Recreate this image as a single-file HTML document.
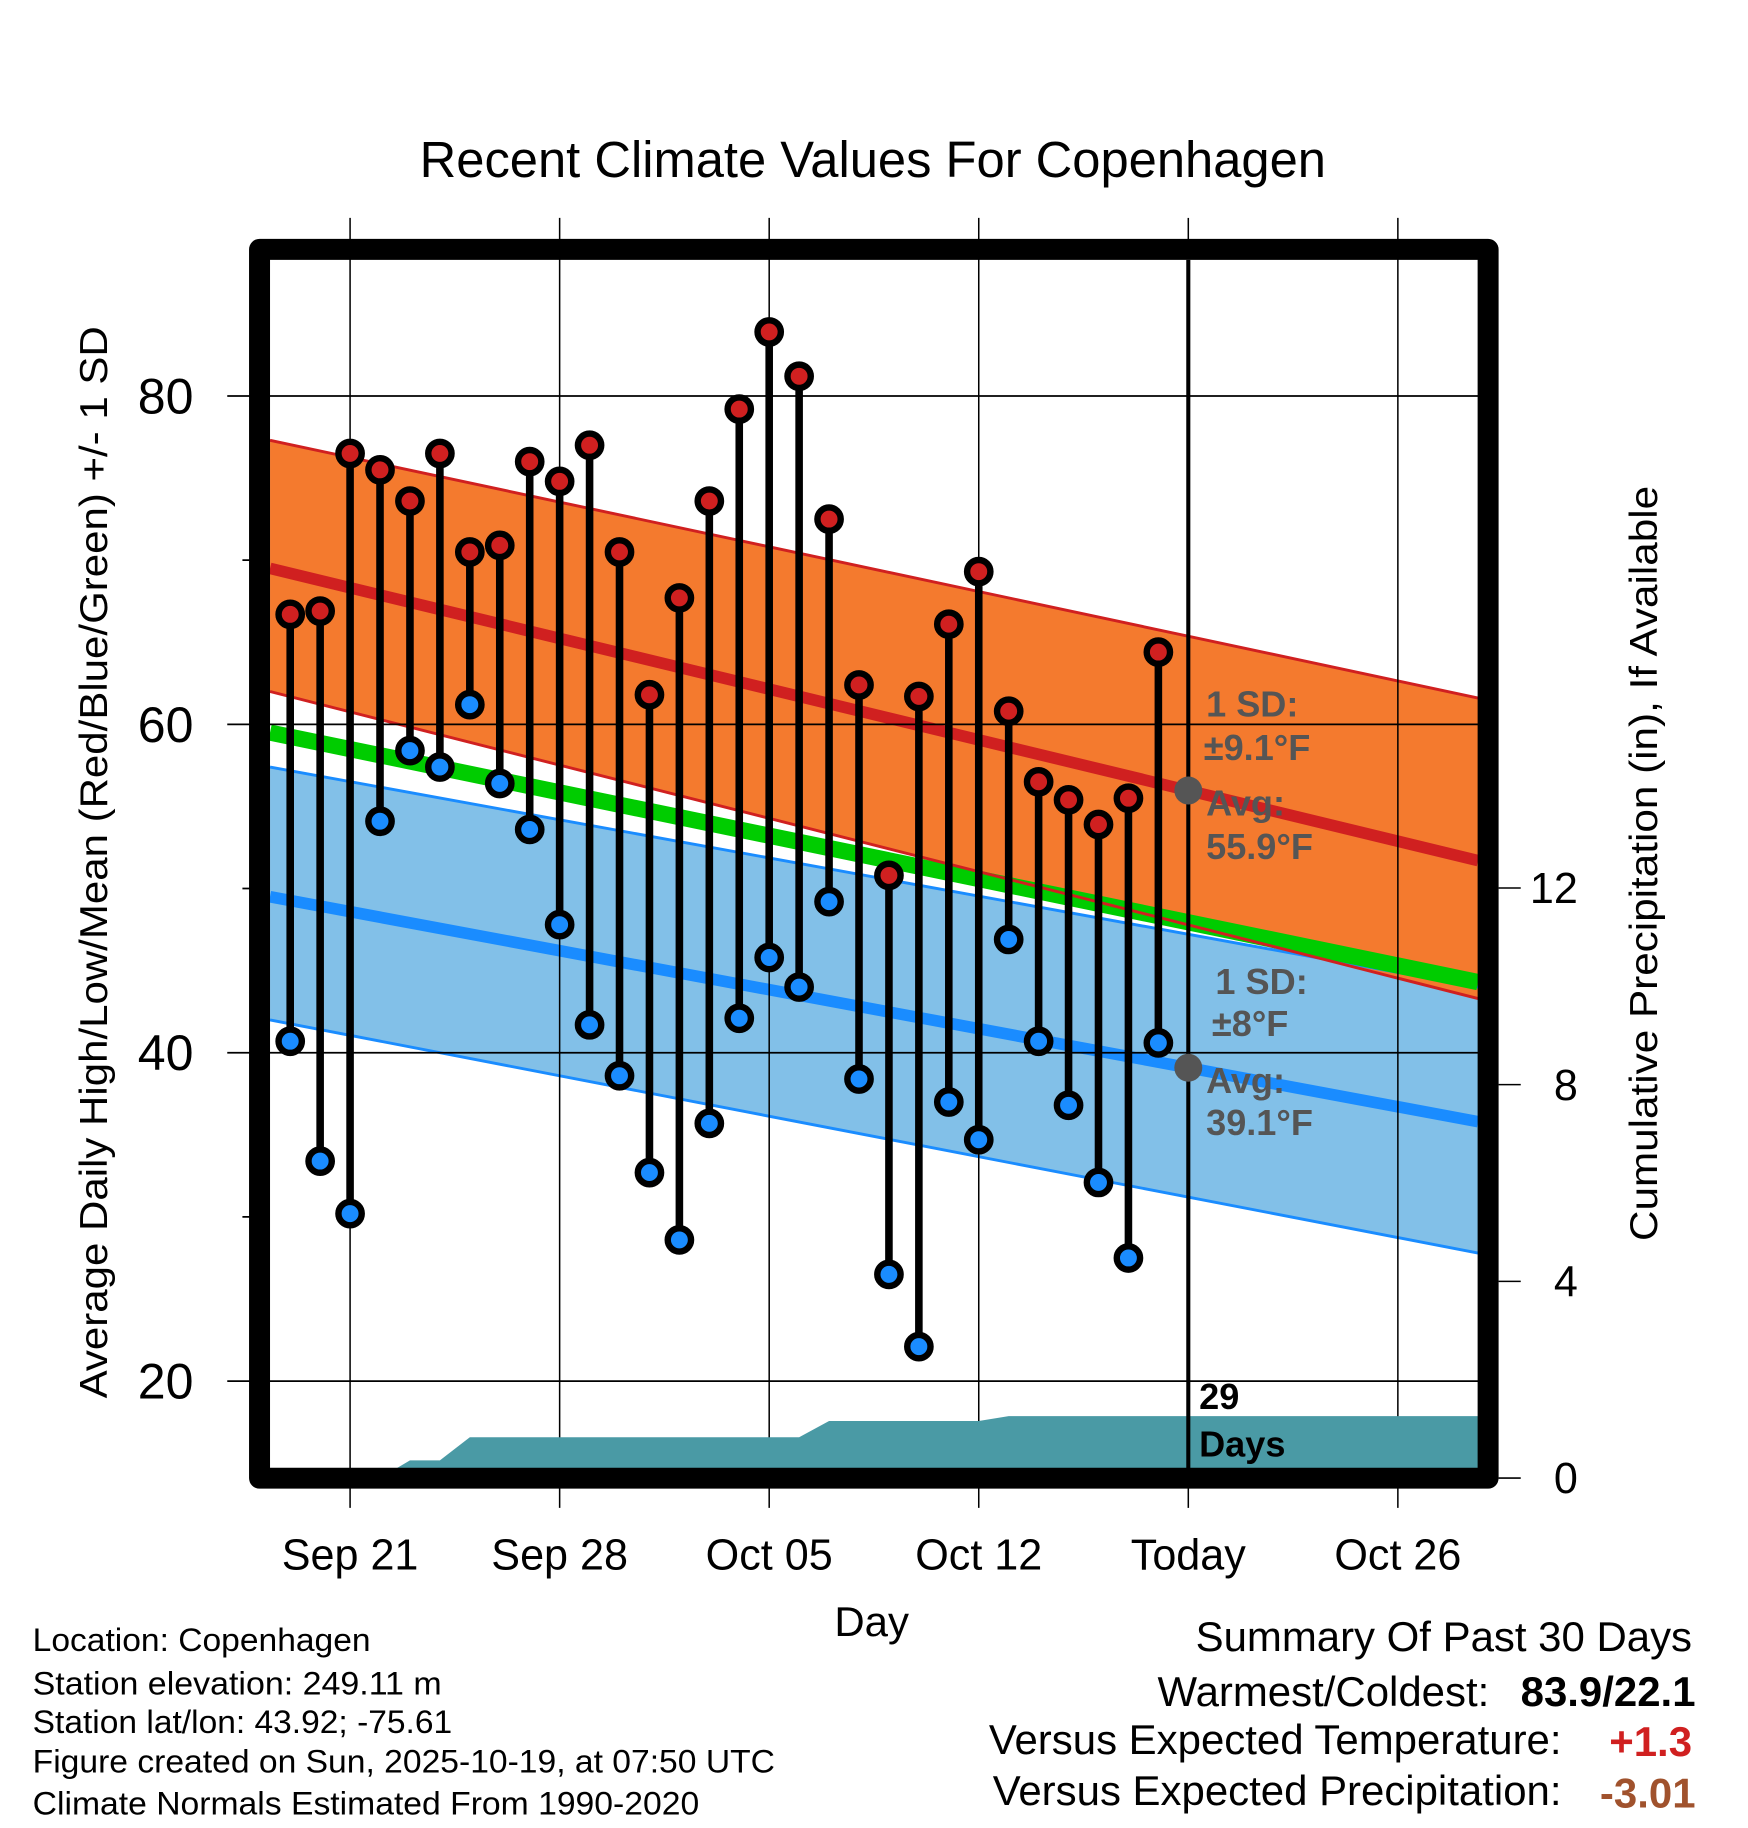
<!DOCTYPE html>
<html><head><meta charset="utf-8"><style>
html,body{margin:0;padding:0;background:#fff;}
svg{display:block;font-family:"Liberation Sans",Arial,sans-serif;}
</style></head><body>
<svg id="chart" width="1748" height="1828" viewBox="0 0 1500 1568.7" xmlns="http://www.w3.org/2000/svg">
<g id="bands"></g>
<g id="grid"></g>
<g id="precip"></g>
<g id="marks"></g>
<g id="labels"></g>
</svg>
<script>
const days = ["Sep19","Sep20","Sep21","Sep22","Sep23","Sep24","Sep25","Sep26","Sep27","Sep28","Sep29","Sep30","Oct01","Oct02","Oct03","Oct04","Oct05","Oct06","Oct07","Oct08","Oct09","Oct10","Oct11","Oct12","Oct13","Oct14","Oct15","Oct16","Oct17","Oct18"];
const highs = [66.7,66.9,76.5,75.5,73.6,76.5,70.5,70.9,76.0,74.8,77.0,70.5,61.8,67.7,73.6,79.2,83.9,81.2,72.5,62.4,50.8,61.7,66.1,69.3,60.8,56.5,55.4,53.9,55.5,64.4];
const lows = [40.7,33.4,30.2,54.1,58.4,57.4,61.2,56.4,53.6,47.8,41.7,38.6,32.7,28.6,35.7,42.1,45.8,44.0,49.2,38.4,26.5,22.1,37.0,34.7,46.9,40.7,36.8,32.1,27.5,40.6];
const precipCum = [0,0,0,0,0.36,0.36,0.83,0.83,0.83,0.83,0.83,0.83,0.83,0.83,0.83,0.83,0.83,0.83,1.16,1.16,1.16,1.16,1.16,1.16,1.26,1.26,1.26,1.26,1.26,1.26];
const normHighMean = [69.5,51.7];
const normHighUpper = [77.3,61.6];
const normHighLower = [62.0,43.3];
const normLowMean = [49.5,35.8];
const normLowUpper = [57.4,44.0];
const normLowLower = [42.0,27.8];
const normMean = [59.5,44.3];
const xTickLabels = ["Sep 21","Sep 28","Oct 05","Oct 12","Today","Oct 26"];
const xTickDays = [2,9,16,23,30,37];
const yTicks = [20,40,60,80];
const yMinor = [30,50,70];
const pTicks = [0,4,8,12];

const NS="http://www.w3.org/2000/svg";
const L=231.7,R=1268.4,T=223,B=1260;
const x=d=>300.4+(d-2)*25.69;
const y=v=>339.8+(80-v)*14.09;
const py=p=>1268.4-p*42.2;
function mk(tag,attrs,parent,text){const e=document.createElementNS(NS,tag);for(const k in attrs)e.setAttribute(k,attrs[k]);if(text!==undefined)e.textContent=text;parent.appendChild(e);return e;}
const bands=document.getElementById('bands'),grid=document.getElementById('grid'),precip=document.getElementById('precip'),marks=document.getElementById('marks'),labels=document.getElementById('labels');
function band(up,lo,fill,name){const e=mk('polygon',{points:`${L},${y(up[0])} ${R},${y(up[1])} ${R},${y(lo[1])} ${L},${y(lo[0])}`,fill:fill},bands);}
function line(v,col,w,name){const e=mk('line',{x1:L,y1:y(v[0]),x2:R,y2:y(v[1]),stroke:col,'stroke-width':w},bands);}
band(normLowUpper,normLowLower,'#82c0e8','low-sd-band');
band(normHighUpper,normHighLower,'#f47a2e','high-sd-band');
line(normLowUpper,'#1a8cff',2.5,'low-upper-line');
line(normLowLower,'#1a8cff',2.5,'low-lower-line');
line(normMean,'#00cc00',14,'mean-normal-line');
line(normHighLower,'#d02020',2.5,'high-lower-line');
line(normHighUpper,'#d02020',2.5,'high-upper-line');
line(normHighMean,'#d02020',10,'high-mean-line');
line(normLowMean,'#1a8cff',10,'low-mean-line');
let pts=`${L},${py(0)} `;
precipCum.forEach((p,i)=>{pts+=`${Math.max(L,x(i))},${py(p)} `;});
pts+=`${R},${py(precipCum[precipCum.length-1])} ${R},${py(0)}`;
const pp=mk('polygon',{points:pts,fill:'#4a9aa5'},precip);


yTicks.forEach(v=>{const g=mk('line',{x1:195,y1:y(v),x2:R,y2:y(v),stroke:'#000','stroke-width':1.5},grid);
 const t=mk('text',{x:166,y:y(v)+15,'text-anchor':'end','font-size':43},grid,String(v));});
yMinor.forEach(v=>{const g=mk('line',{x1:208,y1:y(v),x2:222,y2:y(v),stroke:'#000','stroke-width':1.5},grid);});
xTickDays.forEach((d,i)=>{
 if(xTickLabels[i]!=="Today"){const g=mk('line',{x1:x(d),y1:187,x2:x(d),y2:1294,stroke:'#000','stroke-width':1.3},grid);}
 else{const g=mk('line',{x1:x(d),y1:1270,x2:x(d),y2:1294,stroke:'#000','stroke-width':1.3},grid);
  const g2=mk('line',{x1:x(d),y1:187,x2:x(d),y2:215,stroke:'#000','stroke-width':1.3},grid);}
 const t=mk('text',{x:x(d),y:1347,'text-anchor':'middle','font-size':37},grid,xTickLabels[i]);});
pTicks.forEach(p=>{const g=mk('line',{x1:1286,y1:py(p),x2:1305,y2:py(p),stroke:'#000','stroke-width':1.3},grid);
 const t=mk('text',{x:1354,y:py(p)+13,'text-anchor':'end','font-size':37},grid,String(p));});
const tl=mk('line',{x1:x(30),y1:T,x2:x(30),y2:B,stroke:'#000','stroke-width':3.5},marks);


highs.forEach((h,i)=>{const s=mk('line',{x1:x(i),y1:y(h),x2:x(i),y2:y(lows[i]),stroke:'#000','stroke-width':6.5},marks);});
highs.forEach((h,i)=>{const c=mk('circle',{cx:x(i),cy:y(h),r:10,fill:'#d02020',stroke:'#000','stroke-width':5.5},marks);
 const c2=mk('circle',{cx:x(i),cy:y(lows[i]),r:10,fill:'#1a8cff',stroke:'#000','stroke-width':5.5},marks);});
const todayHigh=normHighMean[0]+(normHighMean[1]-normHighMean[0])*(x(30)-L)/(R-L);
const todayLow=normLowMean[0]+(normLowMean[1]-normLowMean[0])*(x(30)-L)/(R-L);
const g1=mk('circle',{cx:x(30),cy:y(todayHigh),r:12,fill:'#555'},marks);


const g2=mk('circle',{cx:x(30),cy:y(todayLow),r:12,fill:'#555'},marks);


</script>
<script>
(function(){
const svg=document.getElementById('chart');const NS="http://www.w3.org/2000/svg";
const fr=document.createElementNS(NS,'rect');
fr.setAttribute('x',222.7);fr.setAttribute('y',214);fr.setAttribute('width',1054.3);fr.setAttribute('height',1054.5);
fr.setAttribute('fill','none');fr.setAttribute('stroke','#000');fr.setAttribute('stroke-width',18);fr.setAttribute('stroke-linejoin','round');


svg.appendChild(fr);
})();
</script>
<script>
(function(){
const svg=document.getElementById('chart');
svg.insertAdjacentHTML('beforeend',`
<text x="749" y="152" text-anchor="middle" font-size="43.5">Recent Climate Values For Copenhagen</text>
<text transform="translate(92,740) rotate(-90)" text-anchor="middle" font-size="33" textLength="920" lengthAdjust="spacingAndGlyphs">Average Daily High/Low/Mean (Red/Blue/Green) +/- 1 SD</text>
<text transform="translate(1422,741) rotate(-90)" text-anchor="middle" font-size="33" textLength="648" lengthAdjust="spacingAndGlyphs">Cumulative Precipitation (in), If Available</text>
<text x="748" y="1404" text-anchor="middle" font-size="36">Day</text>
<g fill="#555" font-weight="bold" font-size="31">
<text x="1035" y="615">1 SD:</text><text x="1033" y="652">±9.1°F</text>
<text x="1035" y="700">Avg:</text><text x="1035" y="737">55.9°F</text></g>
<g fill="#555" font-weight="bold" font-size="31">
<text x="1043" y="853">1 SD:</text><text x="1040" y="889">±8°F</text>
<text x="1035" y="938">Avg:</text><text x="1035" y="974">39.1°F</text></g>
<g fill="#000" font-weight="bold" font-size="31">
<text x="1029" y="1209">29</text><text x="1029" y="1250">Days</text></g>
<g font-size="28">
<text x="28" y="1417" textLength="290" lengthAdjust="spacingAndGlyphs">Location: Copenhagen</text>
<text x="28" y="1454" textLength="351" lengthAdjust="spacingAndGlyphs">Station elevation: 249.11 m</text>
<text x="28" y="1487" textLength="360" lengthAdjust="spacingAndGlyphs">Station lat/lon: 43.92; -75.61</text>
<text x="28" y="1521" textLength="637" lengthAdjust="spacingAndGlyphs">Figure created on Sun, 2025-10-19, at 07:50 UTC</text>
<text x="28" y="1557" textLength="572" lengthAdjust="spacingAndGlyphs">Climate Normals Estimated From 1990-2020</text></g>
<g font-size="36">
<text x="1452" y="1417" text-anchor="end">Summary Of Past 30 Days</text>
<text x="1278" y="1464" text-anchor="end">Warmest/Coldest:</text>
<text x="1455" y="1464" text-anchor="end" font-weight="bold">83.9/22.1</text>
<text x="1340" y="1505" text-anchor="end">Versus Expected Temperature:</text>
<text x="1452" y="1507" text-anchor="end" font-weight="bold" fill="#d02020">+1.3</text>
<text x="1340" y="1549" text-anchor="end">Versus Expected Precipitation:</text>
<text x="1455" y="1551" text-anchor="end" font-weight="bold" fill="#a0522d">-3.01</text></g>
`);
})();
</script>
</body></html>
